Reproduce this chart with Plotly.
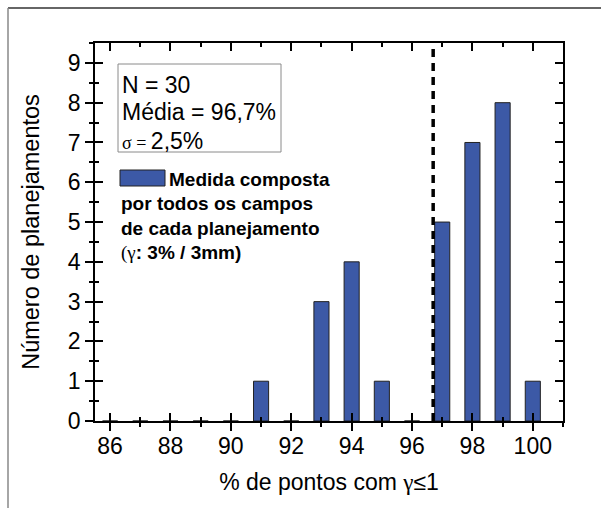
import plotly.graph_objects as go

# ---- data ----
bin_centers = [86, 87, 88, 89, 90, 91, 92, 93, 94, 95, 96, 97, 98, 99, 100]
counts = [0, 0, 0, 0, 0, 1, 0, 3, 4, 1, 0, 5, 7, 8, 1]
mean_value = 96.7
x_tick_vals = [86, 88, 90, 92, 94, 96, 98, 100]
x_tick_text = ["86", "88", "90", "92", "94", "96", "98", "100"]
y_tick_vals = [0, 1, 2, 3, 4, 5, 6, 7, 8, 9]
stats_lines = ["N = 30", "Média = 96,7%",
               '<span style="font-family:Liberation Serif;font-size:18px">σ = </span>2,5%']
legend_lines = ["Medida composta", "por todos os campos", "de cada planejamento",
                '<span style="font-family:Liberation Serif;font-weight:normal">(γ</span>: 3% / 3mm)']
x_title = '% de pontos com <span style="font-family:Liberation Serif">γ</span>≤1'
y_title = "Número de planejamentos"

BAR_COLOR = "#3c59a6"
FONT = "Liberation Sans, Arial, sans-serif"
X_RANGE = [85.5, 101.0]
Y_RANGE = [0, 9.5]

# plot-area geometry in pixels (for placing decorations)
L, R, T, B = 95, 563, 43, 421
W, H = 601, 508
def px(xp):
    return (xp - L) / (R - L)
def py(yp):
    return (B - yp) / (B - T)

fig = go.Figure()
fig.add_trace(go.Bar(x=bin_centers, y=counts, width=0.5,
                     marker=dict(color=BAR_COLOR, line=dict(color="#222222", width=1)),
                     showlegend=False, hoverinfo="skip"))
fig.add_trace(go.Scatter(x=[mean_value, mean_value], y=Y_RANGE, xaxis="x2", yaxis="y2",
                         mode="lines", line=dict(color="black", width=3.5, dash="8px,6px"),
                         showlegend=False, hoverinfo="skip"))

axis_common = dict(showgrid=False, zeroline=False, showline=True, linecolor="black",
                   linewidth=1.5, tickcolor="black", tickwidth=1.5)
fig.update_layout(
    width=W, height=H,
    margin=dict(l=L, r=W - R, t=T, b=H - B, autoexpand=False),
    paper_bgcolor="white", plot_bgcolor="white",
    font=dict(family=FONT, color="black"),
    xaxis=dict(range=X_RANGE, tickvals=x_tick_vals, ticktext=x_tick_text, ticks="outside",
               ticklen=8, tickfont=dict(size=23, family=FONT), ticklabelstandoff=-4,
               minor=dict(dtick=1, tick0=86, ticks="outside", ticklen=4, tickwidth=1.5, tickcolor="black"),
               title=dict(text=x_title, font=dict(size=23, family=FONT), standoff=16),
               **axis_common),
    yaxis=dict(range=Y_RANGE, tickvals=y_tick_vals, ticks="outside", ticklen=8,
               tickfont=dict(size=23, family=FONT),
               minor=dict(dtick=0.5, tick0=0, ticks="outside", ticklen=4, tickwidth=1.5, tickcolor="black"),
               title=dict(text=y_title, font=dict(size=23.5, family=FONT), standoff=22),
               **axis_common),
    xaxis2=dict(range=X_RANGE, overlaying="x", anchor="y2", side="bottom", ticks="inside",
                ticklen=8, tickvals=x_tick_vals, showticklabels=False, mirror="ticks",
                minor=dict(dtick=1, tick0=86, ticks="inside", ticklen=4, tickwidth=1.5, tickcolor="black"),
                **axis_common),
    yaxis2=dict(range=Y_RANGE, overlaying="y", anchor="x2", side="left", ticks="inside",
                ticklen=8, tickvals=y_tick_vals, showticklabels=False, mirror="ticks",
                minor=dict(dtick=0.5, tick0=0, ticks="inside", ticklen=4, tickwidth=1.5, tickcolor="black"),
                **axis_common),
)

shapes = []
# outer frame (top and left edges)
shapes.append(dict(type="line", xref="paper", yref="paper", x0=px(8), x1=px(W), y0=py(8), y1=py(8),
                   line=dict(color="#333333", width=1.5)))
shapes.append(dict(type="line", xref="paper", yref="paper", x0=px(8), x1=px(8), y0=py(8), y1=py(H),
                   line=dict(color="#888888", width=1.5)))
# stats box
shapes.append(dict(type="rect", xref="paper", yref="paper", x0=px(118), x1=px(281), y0=py(64), y1=py(152),
                   line=dict(color="#8a8a8a", width=1), fillcolor="white", layer="above"))
# legend swatch
shapes.append(dict(type="rect", xref="paper", yref="paper", x0=px(120), x1=px(165), y0=py(170), y1=py(186),
                   line=dict(color="#222222", width=1), fillcolor=BAR_COLOR, layer="above"))
fig.update_layout(shapes=shapes)

annotations = []
stat_centers = [84, 111, 139.5]
for txt, yc in zip(stats_lines, stat_centers):
    annotations.append(dict(text=txt, xref="paper", yref="paper", x=px(120), y=py(yc + 1),
                            xanchor="left", yanchor="middle", showarrow=False,
                            font=dict(size=23, family=FONT)))
leg_centers = [178, 202.7, 227.4, 252]
leg_x = [167, 119, 119, 119]
for txt, yc, xl in zip(legend_lines, leg_centers, leg_x):
    annotations.append(dict(text="<b>" + txt + "</b>", xref="paper", yref="paper", x=px(xl), y=py(yc + 1),
                            xanchor="left", yanchor="middle", showarrow=False,
                            font=dict(size=19, family=FONT)))
fig.update_layout(annotations=annotations)

fig.write_html("out.html")
